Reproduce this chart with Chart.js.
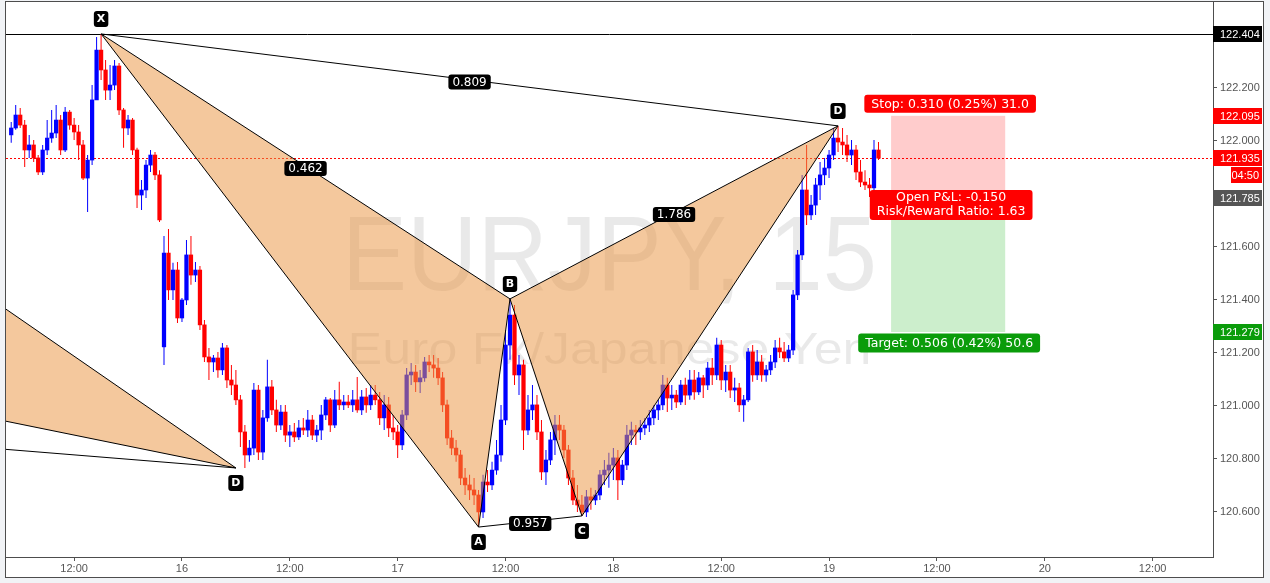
<!DOCTYPE html>
<html>
<head>
<meta charset="utf-8">
<script src="https://cdn.jsdelivr.net/npm/chart.js@4.4.0/dist/chart.umd.min.js"></script>
<style>
  html, body { margin: 0; padding: 0; background: #f1f3f6; }
  canvas { display: block; }
</style>
</head>
<body>
<canvas id="myChart" width="1270" height="583"></canvas>
<script>
// EURJPY 15 — candles (30 min steps), hours counted from 16 00:00
const firstHour = -19;
const barStep = 0.5;

const opens = [
  122.023,122.049,122.098,122.060,121.966,121.985,121.936,121.883,121.966,122.011,
  122.030,122.079,121.966,122.109,122.060,122.034,121.985,121.860,121.928,122.155,
  122.343,122.268,122.192,122.211,122.283,122.117,122.049,122.079,121.966,121.796,
  121.815,121.909,121.947,121.872,121.223,121.577,121.438,121.513,121.332,121.400,
  121.570,121.494,121.513,121.306,121.185,121.166,121.181,121.136,121.219,121.098,
  121.079,121.023,120.902,120.815,120.841,121.060,120.826,120.955,121.072,120.985,
  120.928,120.977,120.890,120.902,120.883,120.917,120.909,120.947,120.890,120.909,
  120.966,121.023,120.928,121.023,121.004,121.015,121.004,121.023,120.985,121.034,
  121.004,121.041,121.023,120.955,121.004,120.917,120.902,120.853,120.966,121.117,
  121.128,121.091,121.106,121.166,121.155,121.143,121.106,121.004,120.879,120.841,
  120.815,120.728,120.702,120.683,120.664,120.600,120.713,120.702,120.758,120.815,
  120.947,121.230,121.343,121.117,121.155,120.909,120.985,121.004,120.902,120.751,
  120.796,120.872,120.928,120.909,120.834,120.728,120.645,120.626,120.600,120.657,
  120.645,120.664,120.740,120.758,120.777,120.804,120.721,120.777,120.890,120.909,
  120.902,120.917,120.928,120.955,120.985,121.004,121.079,121.030,121.041,121.015,
  121.079,121.041,121.098,121.053,121.106,121.079,121.143,121.117,121.230,121.098,
  121.128,121.060,121.068,121.004,121.023,121.204,121.117,121.166,121.117,121.136,
  121.166,121.219,121.204,121.181,121.211,121.419,121.570,121.815,121.721,121.758,
  121.834,121.872,121.898,121.947,122.011,121.996,121.985,121.947,121.966,121.883,
  121.845,121.834,121.823,121.966
];
const highs = [
  122.072,122.136,122.124,122.079,122.023,122.004,121.947,121.985,122.079,122.117,
  122.136,122.098,122.128,122.117,122.087,122.060,122.004,121.947,122.211,122.392,
  122.404,122.306,122.287,122.306,122.294,122.124,122.098,122.087,121.974,121.853,
  121.928,121.966,121.958,121.890,121.641,121.668,121.540,121.543,121.407,121.626,
  121.641,121.543,121.528,121.324,121.219,121.192,121.204,121.238,121.230,121.155,
  121.136,121.041,120.928,120.872,121.087,121.079,120.985,121.174,121.098,121.023,
  121.004,121.004,120.928,120.936,120.947,120.955,120.985,120.966,120.928,121.004,
  121.034,121.030,121.060,121.091,121.041,121.041,121.060,121.109,121.060,121.068,
  121.079,121.079,121.053,121.041,121.034,120.966,120.928,120.985,121.143,121.162,
  121.155,121.136,121.185,121.192,121.192,121.181,121.128,121.023,120.909,120.872,
  120.834,120.766,120.740,120.728,120.683,120.740,120.758,120.789,120.872,121.004,
  121.287,121.404,121.381,121.192,121.174,121.041,121.079,121.041,120.947,120.834,
  120.902,120.966,120.966,120.928,120.853,120.758,120.702,120.664,120.683,120.691,
  120.683,120.758,120.796,120.823,120.841,120.834,120.796,120.928,120.940,120.928,
  120.947,120.955,120.985,121.004,121.023,121.117,121.106,121.079,121.060,121.098,
  121.106,121.136,121.136,121.128,121.117,121.166,121.181,121.257,121.249,121.155,
  121.155,121.106,121.087,121.041,121.219,121.230,121.211,121.192,121.155,121.192,
  121.249,121.257,121.241,121.230,121.438,121.589,121.872,121.985,121.796,121.860,
  121.921,121.936,121.966,122.049,122.057,122.049,122.023,122.004,121.985,121.928,
  121.890,121.860,122.004,121.996
];
const lows = [
  121.993,122.042,122.049,121.902,121.936,121.921,121.872,121.872,121.947,121.993,
  122.011,121.947,121.958,122.042,122.004,121.928,121.853,121.732,121.909,122.155,
  122.230,122.155,122.155,122.192,122.098,121.974,122.023,121.947,121.747,121.740,
  121.785,121.883,121.853,121.694,121.155,121.400,121.400,121.313,121.317,121.381,
  121.457,121.468,121.287,121.166,121.098,121.128,121.106,121.117,121.068,121.041,
  121.004,120.845,120.766,120.789,120.815,120.796,120.796,120.940,120.966,120.902,
  120.909,120.864,120.845,120.864,120.872,120.890,120.883,120.872,120.864,120.872,
  120.947,120.902,120.917,120.985,120.985,120.992,120.977,120.974,120.966,120.974,
  120.985,121.004,120.928,120.909,120.883,120.872,120.804,120.834,120.947,121.079,
  121.053,121.049,121.091,121.128,121.106,121.079,120.977,120.853,120.815,120.789,
  120.702,120.664,120.645,120.626,120.543,120.577,120.675,120.683,120.740,120.789,
  120.928,121.174,121.079,121.041,120.834,120.890,120.947,120.872,120.721,120.702,
  120.777,120.815,120.872,120.804,120.702,120.626,120.600,120.585,120.581,120.608,
  120.626,120.645,120.702,120.691,120.721,120.645,120.702,120.758,120.853,120.853,
  120.872,120.890,120.902,120.928,120.947,120.985,120.977,120.985,120.992,121.004,
  121.004,121.023,121.023,121.041,121.030,121.060,121.079,121.098,121.060,121.053,
  121.030,121.015,120.977,120.940,121.015,121.091,121.098,121.091,121.091,121.117,
  121.143,121.181,121.166,121.166,121.192,121.400,121.551,121.683,121.702,121.721,
  121.777,121.834,121.860,121.928,121.958,121.947,121.921,121.909,121.853,121.826,
  121.815,121.789,121.807,121.928
];
const closes = [
  122.049,122.098,122.060,121.966,121.985,121.936,121.883,121.966,122.011,122.030,
  122.079,121.966,122.109,122.060,122.034,121.985,121.860,121.928,122.155,122.343,
  122.268,122.192,122.211,122.283,122.117,122.049,122.079,121.966,121.796,121.815,
  121.909,121.947,121.872,121.702,121.577,121.438,121.513,121.332,121.400,121.570,
  121.494,121.513,121.306,121.185,121.166,121.181,121.136,121.219,121.098,121.079,
  121.023,120.902,120.815,120.841,121.060,120.826,120.955,121.072,120.985,120.928,
  120.977,120.890,120.902,120.883,120.917,120.909,120.947,120.890,120.909,120.966,
  121.023,120.928,121.023,121.004,121.015,121.004,121.023,120.985,121.034,121.004,
  121.041,121.023,120.955,121.004,120.917,120.902,120.853,120.966,121.117,121.128,
  121.091,121.106,121.166,121.155,121.143,121.106,121.004,120.879,120.841,120.815,
  120.728,120.702,120.683,120.664,120.600,120.713,120.702,120.758,120.815,120.947,
  121.230,121.343,121.117,121.155,120.909,120.985,121.004,120.902,120.751,120.796,
  120.872,120.928,120.909,120.834,120.728,120.645,120.626,120.600,120.657,120.645,
  120.664,120.740,120.758,120.777,120.804,120.721,120.777,120.890,120.909,120.902,
  120.917,120.928,120.955,120.985,121.004,121.079,121.030,121.041,121.015,121.079,
  121.041,121.098,121.053,121.106,121.079,121.143,121.117,121.230,121.098,121.128,
  121.060,121.068,121.004,121.023,121.204,121.117,121.166,121.117,121.136,121.166,
  121.219,121.204,121.181,121.211,121.419,121.570,121.815,121.721,121.758,121.834,
  121.872,121.898,121.947,122.011,121.996,121.985,121.947,121.966,121.883,121.845,
  121.834,121.823,121.966,121.935
];

// axes (121.800 sits under the entry price tag, so it is not listed)
const xMin = -19.58, xMax = 114.72;
const yMin = 120.430, yMax = 122.5245;
const xTicks = [-12, 0, 12, 24, 36, 48, 60, 72, 84, 96, 108];
const xTickLabels = ["12:00", "16", "12:00", "17", "12:00", "18", "12:00", "19", "12:00", "20", "12:00"];
const yTicks = [120.6, 120.8, 121.0, 121.2, 121.4, 121.6, 122.0, 122.2];

// XABCD pattern
const patternNames = ["X", "A", "B", "C", "D"];
const patternHours = [-9, 33, 36.5, 44.5, 73];
const patternPrices = [122.404, 120.543, 121.404, 120.585, 122.057];
const ratioLabels = ["0.809", "0.462", "1.786", "0.957"]; // XD, XB, BD, AC

// previous pattern, only its tail is visible (X', B', C' cut by the left edge, then D)
const prevHours = [-20.25, -20.25, -20.25, 6];
const prevPrices = [120.838, 121.381, 120.947, 120.766];

// short position tool
const entryPrice = 121.785;
const stopPrice = 122.095;
const targetPrice = 121.279;
const posFrom = 78.9, posTo = 91.6;
const lastPrice = 121.935;
const highPrice = 122.404;
const countdown = "04:50";
const stopText = "Stop: 0.310 (0.25%) 31.0";
const targetText = "Target: 0.506 (0.42%) 50.6";
const pnlText = ["Open P&L: -0.150", "Risk/Reward Ratio: 1.63"];

const candleHours = opens.map((_, i) => firstHour + i * barStep);
const candleColors = closes.map((c, i) => (c >= opens[i] ? "#0000ff" : "#ff0000"));
const wickData = candleHours.map((h, i) => ({ x: h, y: [lows[i], highs[i]] }));
const bodyData = candleHours.map((h, i) => ({ x: h, y: [opens[i], closes[i]] }));

function tag(ctx, text, cx, cy, bg, font, padX, h) {
  ctx.font = font;
  const w = ctx.measureText(text).width + padX * 2;
  ctx.fillStyle = bg;
  ctx.beginPath();
  if (ctx.roundRect) ctx.roundRect(cx - w / 2, cy - h / 2, w, h, 3);
  else ctx.rect(cx - w / 2, cy - h / 2, w, h);
  ctx.fill();
  ctx.fillStyle = "#fff";
  ctx.textAlign = "center";
  ctx.textBaseline = "middle";
  ctx.fillText(text, cx, cy + 0.5);
}

function axisTag(ctx, chart, price, bg) {
  const ys = chart.scales.y;
  const y = ys.getPixelForValue(price);
  ctx.fillStyle = bg;
  ctx.fillRect(ys.left, Math.round(y) - 8, ys.right - ys.left - 1, 16);
  ctx.fillStyle = "#fff";
  ctx.font = "11px 'Liberation Sans', Arial";
  ctx.textAlign = "left";
  ctx.textBaseline = "middle";
  ctx.fillText(price.toFixed(3), ys.left + 7, Math.round(y) + 0.5);
}

const drawings = {
  id: "drawings",
  beforeDraw(chart) {
    const ctx = chart.ctx;
    const a = chart.chartArea;
    ctx.save();
    ctx.fillStyle = "#f1f3f6";
    ctx.fillRect(0, 0, chart.width, chart.height);
    ctx.fillStyle = "#ffffff";
    ctx.fillRect(a.left, a.top, chart.scales.y.right - a.left, chart.scales.x.bottom - a.top);
    ctx.restore();
  },
  beforeDatasetsDraw(chart) {
    const ctx = chart.ctx;
    const a = chart.chartArea;
    const xs = chart.scales.x, ys = chart.scales.y;
    ctx.save();
    ctx.beginPath();
    ctx.rect(a.left, a.top, a.right - a.left, a.bottom - a.top);
    ctx.clip();

    // watermark
    const cx = (a.left + a.right) / 2;
    ctx.fillStyle = "rgba(0,0,0,0.085)";
    ctx.textBaseline = "alphabetic";
    ctx.textAlign = "left";
    [["EURJPY, 15", 106, 535, 290], ["Euro Fx/Japanese Yen", 45, 524, 364]].forEach(([t, size, width, base]) => {
      ctx.font = size + "px 'Liberation Sans', Arial";
      const w = ctx.measureText(t).width;
      ctx.save();
      ctx.translate(cx - width / 2, base);
      ctx.scale(width / w, 1);
      ctx.fillText(t, 0, 0);
      ctx.restore();
    });

    // position tool boxes
    const x0 = xs.getPixelForValue(posFrom), x1 = xs.getPixelForValue(posTo);
    const yStop = ys.getPixelForValue(stopPrice);
    const yEntry = ys.getPixelForValue(entryPrice);
    const yTarget = ys.getPixelForValue(targetPrice);
    ctx.fillStyle = "rgba(255,0,0,0.2)";
    ctx.fillRect(x0, yStop, x1 - x0, yEntry - yStop);
    ctx.fillStyle = "rgba(0,170,0,0.2)";
    ctx.fillRect(x0, yEntry, x1 - x0, yTarget - yEntry);

    // high line and last price line
    const yHigh = Math.round(ys.getPixelForValue(highPrice)) + 0.5;
    ctx.strokeStyle = "#000";
    ctx.lineWidth = 1;
    ctx.beginPath();
    ctx.moveTo(a.left, yHigh);
    ctx.lineTo(a.right, yHigh);
    ctx.stroke();
    const yLast = Math.round(ys.getPixelForValue(lastPrice)) + 0.5;
    ctx.strokeStyle = "#ff0000";
    ctx.setLineDash([2, 2]);
    ctx.beginPath();
    ctx.moveTo(a.left, yLast);
    ctx.lineTo(a.right, yLast);
    ctx.stroke();
    ctx.restore();
  },
  afterDatasetsDraw(chart) {
    const ctx = chart.ctx;
    const a = chart.chartArea;
    const xs = chart.scales.x, ys = chart.scales.y;
    const P = patternHours.map((h, i) => [xs.getPixelForValue(h), ys.getPixelForValue(patternPrices[i])]);
    const Q = prevHours.map((h, i) => [xs.getPixelForValue(h), ys.getPixelForValue(prevPrices[i])]);
    const [X, A, B, C, D] = P;
    const [pX, pB, pC, pD] = Q;

    ctx.save();
    ctx.beginPath();
    ctx.rect(a.left, a.top, a.right - a.left, a.bottom - a.top);
    ctx.clip();

    ctx.fillStyle = "rgba(234,149,68,0.52)";
    [[X, A, B], [B, C, D], [pB, pC, pD]].forEach(tri => {
      ctx.beginPath();
      ctx.moveTo(tri[0][0], tri[0][1]);
      ctx.lineTo(tri[1][0], tri[1][1]);
      ctx.lineTo(tri[2][0], tri[2][1]);
      ctx.closePath();
      ctx.fill();
    });

    ctx.strokeStyle = "#000";
    ctx.lineWidth = 1;
    [[X, A], [A, B], [B, X], [B, C], [C, D], [D, B], [X, D], [A, C],
     [pB, pD], [pC, pD], [pX, pD]].forEach(([p, q]) => {
      ctx.beginPath();
      ctx.moveTo(p[0], p[1]);
      ctx.lineTo(q[0], q[1]);
      ctx.stroke();
    });
    ctx.restore();

    ctx.save();
    // ratio labels at segment midpoints
    const mids = [[X, D], [X, B], [B, D], [A, C]];
    mids.forEach(([p, q], i) => {
      tag(ctx, ratioLabels[i], (p[0] + q[0]) / 2, (p[1] + q[1]) / 2 + 2, "#000", "12px 'DejaVu Sans'", 4, 15);
    });
    // point labels
    const above = [true, false, true, false, true];
    P.forEach((p, i) => {
      tag(ctx, patternNames[i], p[0], p[1] + (above[i] ? -15 : 15), "#000", "bold 11px 'DejaVu Sans'", 3, 16);
    });
    tag(ctx, "D", pD[0], pD[1] + 15, "#000", "bold 11px 'DejaVu Sans'", 3, 16);

    // position tool labels
    const xc = (xs.getPixelForValue(posFrom) + xs.getPixelForValue(posTo)) / 2;
    const labelFont = "12.5px 'DejaVu Sans'";
    tag(ctx, stopText, xc + 2, ys.getPixelForValue(stopPrice) - 12, "#ff0000", labelFont, 7, 18);
    tag(ctx, targetText, xc + 1, ys.getPixelForValue(targetPrice) + 11, "#0a9c0a", labelFont, 7, 19);
    ctx.font = labelFont;
    const w = Math.max(...pnlText.map(t => ctx.measureText(t).width)) + 14;
    const ye = ys.getPixelForValue(entryPrice);
    ctx.fillStyle = "#ff0000";
    ctx.beginPath();
    if (ctx.roundRect) ctx.roundRect(xc + 3 - w / 2, ye - 8, w, 30, 3);
    else ctx.rect(xc + 3 - w / 2, ye - 8, w, 30);
    ctx.fill();
    ctx.fillStyle = "#fff";
    ctx.textAlign = "center";
    ctx.textBaseline = "middle";
    ctx.fillText(pnlText[0], xc + 3, ye);
    ctx.fillText(pnlText[1], xc + 3, ye + 14);
    ctx.restore();
  },
  afterDraw(chart) {
    const ctx = chart.ctx;
    const a = chart.chartArea;
    const xs = chart.scales.x, ys = chart.scales.y;
    ctx.save();
    ctx.strokeStyle = "#4d4d4d";
    ctx.lineWidth = 1;
    ctx.strokeRect(a.left - 0.5, a.top - 0.5, ys.right - a.left + 1, xs.bottom - a.top + 1);

    axisTag(ctx, chart, highPrice, "#000000");
    axisTag(ctx, chart, stopPrice, "#ff0000");
    axisTag(ctx, chart, entryPrice, "#555555");
    axisTag(ctx, chart, targetPrice, "#0a9c0a");
    axisTag(ctx, chart, lastPrice, "#ff0000");
    const yl = Math.round(ys.getPixelForValue(lastPrice));
    ctx.fillStyle = "#ff0000";
    ctx.fillRect(ys.right - 32, yl + 9, 31, 16);
    ctx.fillStyle = "#fff";
    ctx.font = "11px 'Liberation Sans', Arial";
    ctx.textAlign = "right";
    ctx.textBaseline = "middle";
    ctx.fillText(countdown, ys.right - 4, yl + 17.5);
    ctx.restore();
  }
};

const ctx = document.getElementById("myChart").getContext("2d");
const chart = new Chart(ctx, {
  type: "bar",
  data: {
    datasets: [
      {
        label: "body",
        data: bodyData,
        backgroundColor: candleColors,
        grouped: false,
        barPercentage: 1,
        categoryPercentage: 1,
        maxBarThickness: 3.6,
        minBarLength: 1,
        borderWidth: 0,
        order: 1,
      },
      {
        label: "wick",
        data: wickData,
        backgroundColor: candleColors,
        grouped: false,
        maxBarThickness: 1,
        borderWidth: 0,
        order: 2,
      },
    ],
  },
  options: {
    responsive: false,
    animation: false,
    layout: { padding: { left: 6, top: 2, right: 7, bottom: 6 } },
    plugins: { legend: { display: false }, tooltip: { enabled: false } },
    scales: {
      x: {
        type: "linear",
        min: xMin,
        max: xMax,
        offset: false,
        afterBuildTicks: (axis) => { axis.ticks = xTicks.map((v) => ({ value: v })); },
        afterFit: (axis) => {
          axis.height = 20;
          axis.paddingLeft = 0;
          axis.paddingRight = 0;
        },
        ticks: {
          autoSkip: false,
          maxRotation: 0,
          padding: 1,
          color: "#555",
          font: { family: "'Liberation Sans', Arial", size: 11 },
          callback: (v, i) => xTickLabels[i],
        },
        grid: { drawOnChartArea: false, offset: false, tickLength: 4, color: "#555" },
        border: { color: "#4d4d4d" },
      },
      y: {
        position: "right",
        min: yMin,
        max: yMax,
        afterBuildTicks: (axis) => { axis.ticks = yTicks.map((v) => ({ value: v })); },
        afterFit: (axis) => {
          axis.width = 50;
          axis.paddingTop = 0;
          axis.paddingBottom = 0;
        },
        ticks: {
          padding: 3,
          color: "#555",
          font: { family: "'Liberation Sans', Arial", size: 11 },
          callback: (v) => Number(v).toFixed(3),
        },
        grid: { drawOnChartArea: false, tickLength: 4, color: "#555" },
        border: { color: "#4d4d4d" },
      },
    },
  },
  plugins: [drawings],
});
</script>
</body>
</html>
